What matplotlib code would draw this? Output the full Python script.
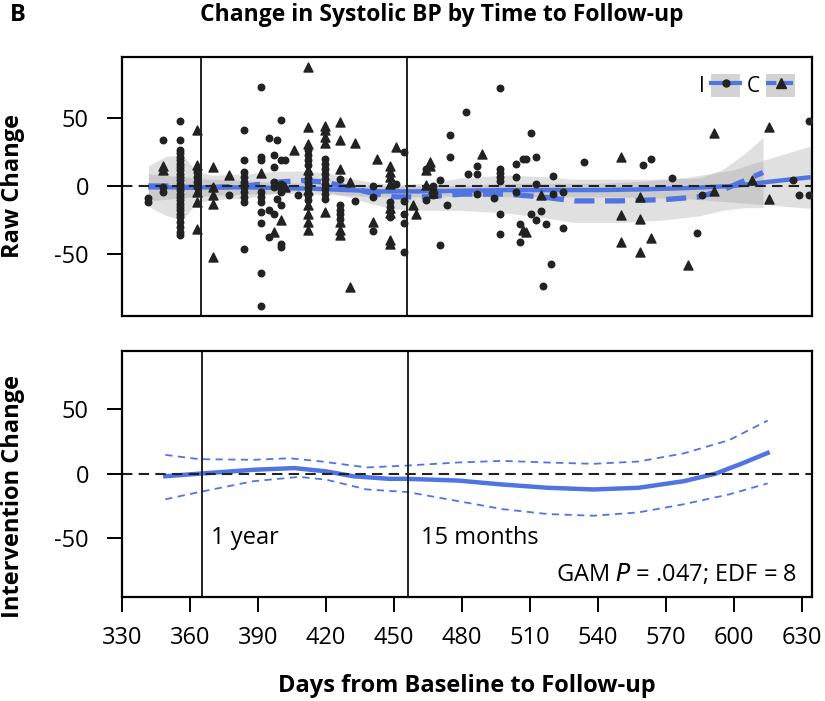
import matplotlib.pyplot as plt
from matplotlib.lines import Line2D
from matplotlib.patches import Patch

plt.rcParams['font.family'] = ['Open Sans', 'DejaVu Sans']
plt.rcParams['axes.unicode_minus'] = False

# Intervention group (circles): days, raw change
i_days = [341.8, 341.8,
          348.6, 348.6, 348.6] + [355.8] * 27 + \
         [363.3] * 4 + [377.4] + [384.2] * 10 + [391.5] * 10 + [395.2] * 3 + \
         [397.5] * 5 + [398.6] * 2 + [400.5] * 8 + [402.3, 407.8] + [412.6] * 10 + \
         [419.8] * 9 + [426.7] * 5 + [433.1] + [441.1] * 3 + [448.4] * 4 + [451.2] + \
         [454.9] * 5 + [464.3] * 2 + [467.5] * 3 + [470.5] * 2 + [473.7] + [474.9] * 2 + \
         [482.0, 483.1] + [486.8] * 3 + [494.2] + [497.1] * 7 + [504.3] * 3 + [506.0] * 2 + \
         [507.2, 508.7] + [510.5] * 2 + [513.1] * 3 + [514.9, 516.1, 517.1, 519.4] + \
         [520.4] * 2 + [524.6] * 2 + [534.2, 560.1, 563.5, 573.0, 583.8, 586.0, 626.3, 628.7] + \
         [633.4] * 2
i_vals = [-8.6, -11.8,
          33.8, -0.7, -4.4,
          48.1, 34.3, 26.4, 24, 21.5, 19, 16.5, 14.1, 11.6, 9.1, 6.7, 4.2, 1.7, -0.7,
          -3.2, -5.7, -8.1, -10.6, -13.1, -15.5, -18, -20.5, -22.9, -26.7, -30.4, -34, -36.5,
          10.4, 6.7, 3, -0.7,
          -6.4,
          41.2, 19, 10.4, 6.7, 3, -0.7, -4.4, -8.1, -11.8, -46.4,
          73.3, 21.5, 19, -4.4, -8.1, -11.8, -19.2, -27.4, -64.2, -88.4,
          35.1, -18, -37.3,
          22.7, 14.1, 3, -0.7, -20.5,
          34.3, -9.4,
          48.6, 19, 1.7, -1.5, -4.4, -14.3, -42.7, -45.2,
          19, -6.9,
          26.4, 22.7, 19, 15.3, 9.9, 6.2, 2.5, -1.2, -6.9, -10.6,
          20.3, 16.5, 12.8, 9.1, 5.4, 1.7, -2, -5.7, -9.4,
          5.4, -14.3, -18, -20.5, -24.2,
          -11.3,
          0, -8.1, -33.5,
          -12, -15.5, -19.2, -22.9,
          1.2,
          25.2, -11.1, -20.5, -27.4, -48.9,
          12.8, -10.6,
          0, -3, -6.5,
          4.2, -43.9,
          -14.3,
          37.5, 21.5,
          54.8, 9.1,
          14.6, 8.6, -5.8,
          -8.9,
          72.1, 12.8, 9.6, 6.7, 3.7, -20.5, -35.3,
          16, 6.7, -4.4,
          -27.9, -41,
          19.8, 19.8,
          38.8, -20.5,
          21.5, 1.7, -25.4,
          -18.8, -73.6, -27.9, -57.5,
          7.2, -5.7,
          -4.4, -31.1,
          17.8, 15.3, 19.8, 5.9, -34.6, -6.9, 4.2, -6.9,
          47.9, -6.9]

# Control group (triangles)
c_days = [348.6] * 2 + [363.3] * 5 + [370.4] * 5 + [377.4, 391.5, 397.5, 400.5, 402.3, 406.4] + \
         [412.6] * 9 + [419.8] * 5 + [426.7] * 6 + [430.9] * 2 + [433.1, 441.1, 442.7] + \
         [448.4] * 8 + [451.2, 458.6, 459.8] + [464.3] * 2 + [466.0] * 2 + [467.5] * 2 + \
         [489.0, 507.2, 508.7, 514.9] + [550.5] * 3 + [558.6] * 3 + [563.5, 579.8] + \
         [591.2] * 2 + [608.3] + [615.7] * 2
c_vals = [14.6, 12.1,
          41.2, 15.3, -4.4, -11.8, -31.6,
          14.1, -0.7, -7, -13.1, -52.1,
          7.9, 9.6, -34, -25.4, -0.7, 26.4,
          88.2, 43.7, 30.9, 12.1, -3.2, -14.3, -20.5, -26.7, -32.8,
          44.2, 41.2, 36.3, 31.4, -19.2,
          47.4, 34.3, 12.8, -26.7, -32.8, -36.5,
          3, -74.8,
          31.4, -26.7, 20.3,
          14.6, 10.4, 6.7, 1.2, -16, -20, -40.2, -42.7,
          28.9, -13.8, -21,
          11.6, 0.5,
          17.8, 14.6,
          -2, -5.5,
          23.5, -32.8, -34, -6.9,
          21.5, -21.7, -41,
          -8.1, -24.2, -48.9,
          -38.3, -58,
          -4, 39.3,
          4.2,
          43.2, -9.9]

# smooth fits with confidence half-widths
i_fit_days = [342, 355, 370, 385, 400, 415, 430, 445, 460, 480, 500, 520, 540, 560, 580, 600, 615, 634]
i_fit = [-1, -1, -1, -1, -1.5, -2, -3, -4, -4, -3.5, -3, -3, -3, -2.5, -1.5, 0, 3, 6.5]
i_se = [10, 8, 6, 5, 4, 4, 4, 4, 4, 4, 5, 5, 5, 6, 8, 12, 17, 23]

c_fit_days = [342, 350, 357, 363, 370, 385, 400, 410, 420, 430, 440, 450, 465, 480, 500,
              515, 530, 550, 570, 585, 595, 605, 613]
c_fit = [0, 0, -1, -1, -1, 0, 3, 4, 3, -1, -5, -8, -8, -6, -6, -8, -11, -11, -10, -8, -3, 4, 10]
c_se = [15, 22, 24, 12, 9, 9, 8, 7, 7, 7, 8, 9, 10, 12, 14, 15, 16, 16, 15, 14, 15, 20, 26]

# intervention effect (GAM)
diff_days = [349, 364, 388, 406, 420, 432, 448, 456, 478, 498, 518, 538, 558, 578, 592, 604, 615]
diff = [-2, 0, 3, 4.3, 1.8, -2, -4, -4, -5.3, -8.4, -10.9, -12.2, -10.9, -5.8, 0, 8.1, 16]
upper_days = [349, 364, 388, 404, 418, 438, 456, 478, 498, 518, 538, 558, 578, 598, 615]
upper = [14.5, 11.2, 10.7, 11.9, 9.4, 4.8, 6.3, 8.6, 9.9, 8.6, 7.6, 9.4, 15.7, 25.9, 41]
lower_days = [349, 364, 388, 408, 420, 438, 456, 478, 498, 518, 538, 558, 578, 598, 615]
lower = [-19.8, -14.2, -5.8, -2.5, -4.6, -12.2, -14.2, -21.1, -27.4, -31.2, -32.5, -29.9, -23.6, -16, -7.5]

blue = '#5174e3'
dark = '#222222'
band = '#9a9a9a'

fig = plt.figure(figsize=(8.25, 7.01), dpi=100)
ax1 = fig.add_axes([0.1482, 0.5492, 0.8358, 0.369])
ax2 = fig.add_axes([0.1482, 0.1488, 0.8358, 0.351])

# top panel: raw change
ax1.fill_between(c_fit_days, [f - s for f, s in zip(c_fit, c_se)],
                 [f + s for f, s in zip(c_fit, c_se)], color=band, alpha=0.3, lw=0)
ax1.fill_between(i_fit_days, [f - s for f, s in zip(i_fit, i_se)],
                 [f + s for f, s in zip(i_fit, i_se)], color=band, alpha=0.3, lw=0)
ax1.plot(i_fit_days, i_fit, color=blue, lw=3.2, solid_capstyle='butt')
ax1.plot(c_fit_days, c_fit, color=blue, lw=3.8, dashes=(3.8, 2))
ax1.scatter(i_days, i_vals, s=22, marker='o', color=dark, zorder=3)
ax1.scatter(c_days, c_vals, s=42, marker='^', color=dark, zorder=3)
ax1.set_xlim(330.5, 634.5)
ax1.set_ylim(-96, 95)

h_i = (Patch(facecolor='#d3d3d3', edgecolor='none'),
       Line2D([], [], color=blue, lw=3, marker='o', ms=5, mfc=dark, mec=dark))
h_c = (Patch(facecolor='#d3d3d3', edgecolor='none'),
       Line2D([], [], color=blue, lw=3, ls=(0, (2.5, 1.5)), marker='^', ms=7, mfc=dark, mec=dark))
ax1.legend([h_i, h_c], ['I', 'C'], ncol=2, loc='upper right', markerfirst=False,
           frameon=False, fontsize=15, handlelength=1.4, handleheight=1.3,
           handletextpad=0.3, columnspacing=0.3, borderaxespad=0.4)

# bottom panel: intervention change
ax2.plot(diff_days, diff, color=blue, lw=3.2)
ax2.plot(upper_days, upper, color=blue, lw=1.3, dashes=(4, 3))
ax2.plot(lower_days, lower, color=blue, lw=1.3, dashes=(4, 3))
ax2.set_xlim(330.5, 634.5)
ax2.set_ylim(-95, 95)
ax2.set_xticks(range(330, 631, 30))
ax2.text(369, -50, '1 year', fontsize=17, va='center', ha='left')
ax2.text(462, -50, '15 months', fontsize=17, va='center', ha='left')
ax2.text(628, -77.5, 'GAM $\\mathit{P}$ = .047; EDF = 8', fontsize=17, va='center', ha='right')

for ax in (ax1, ax2):
    ax.axhline(0, color=dark, lw=1.5, dashes=(5, 3))
    ax.axvline(365, color=dark, lw=1.4)
    ax.axvline(456, color=dark, lw=1.4)
    ax.set_yticks([-50, 0, 50])
    ax.tick_params(axis='y', length=11, width=1.4, pad=13, labelsize=17)
    for sp in ax.spines.values():
        sp.set_linewidth(1.6)
ax1.tick_params(axis='x', bottom=False, labelbottom=False)
ax2.tick_params(axis='x', length=11, width=1.4, pad=10, labelsize=17)

fig.text(0.016, 0.734, 'Raw Change', rotation=90, fontweight='bold', fontsize=17,
         ha='center', va='center')
fig.text(0.016, 0.2924, 'Intervention Change', rotation=90, fontweight='bold', fontsize=17,
         ha='center', va='center')
fig.text(0.566, 0.0214, 'Days from Baseline to Follow-up', fontweight='bold', fontsize=17,
         ha='center', va='center')
fig.text(0.2424, 0.979, 'Change in Systolic BP by Time to Follow-up', fontweight='bold',
         fontsize=16.5, ha='left', va='center')
fig.text(0.012, 0.979, 'B', fontweight='bold', fontsize=17, ha='left', va='center')

fig.savefig('out.png', dpi=100)
